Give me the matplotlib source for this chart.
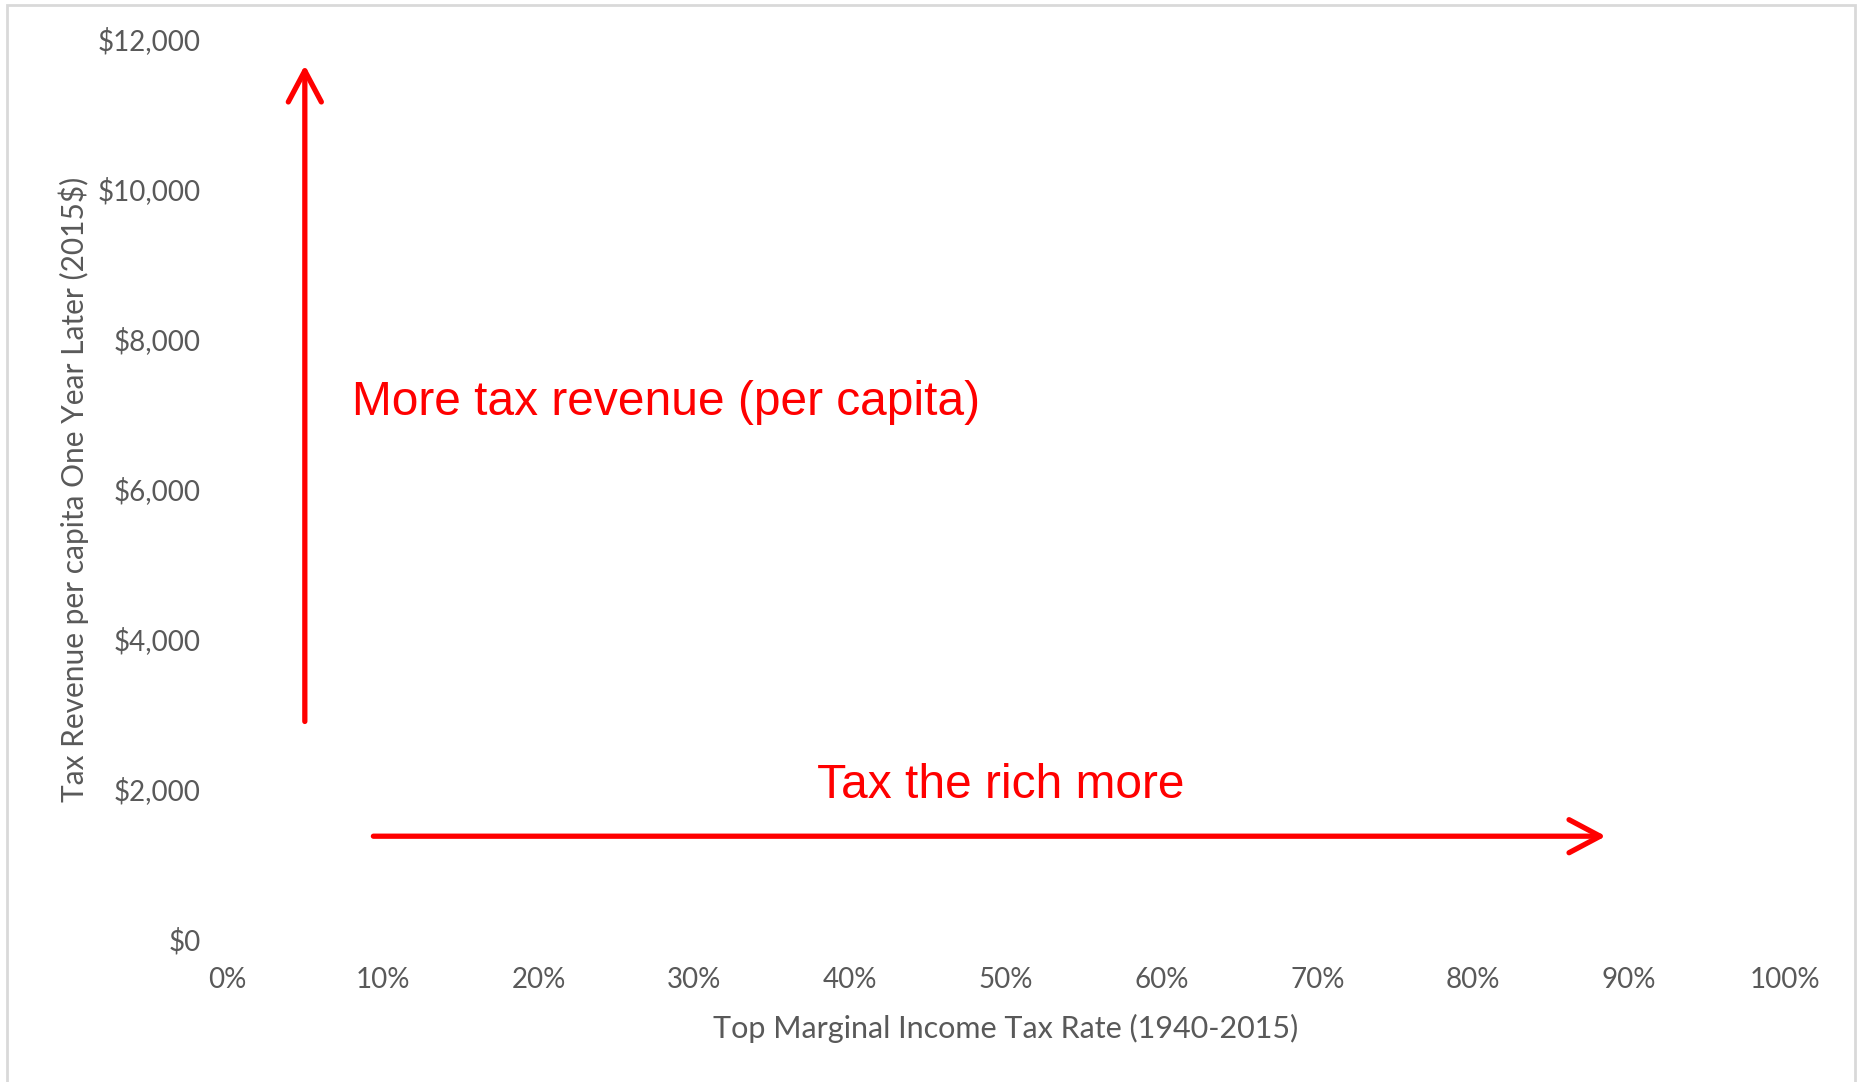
import numpy as np
import matplotlib.pyplot as plt
from matplotlib.patches import Rectangle
from matplotlib.ticker import FuncFormatter

# Axis ranges and ticks
x_ticks = [0.0, 0.1, 0.2, 0.3, 0.4, 0.5, 0.6, 0.7, 0.8, 0.9, 1.0]
y_ticks = [0, 2000, 4000, 6000, 8000, 10000, 12000]

# Annotation arrows: (start, end) in data units
revenue_arrow = [(0.05, 2900), (0.05, 11650)]
rate_arrow = [(0.094, 1370), (0.885, 1370)]
revenue_text = (0.08, 7150, "More tax revenue (per capita)")
rate_text = (0.379, 2040, "Tax the rich more")

gray = "#595959"
red = "#ff0000"
label_font = ["Lato", "DejaVu Sans"]

fig = plt.figure(figsize=(18.57, 10.82), dpi=100)
ax = fig.add_axes([0.1222, 0.1322, 0.8390, 0.8318])

ax.set_xlim(0, 1)
ax.set_ylim(0, 12000)
ax.set_xticks(x_ticks)
ax.set_yticks(y_ticks)
ax.xaxis.set_major_formatter(FuncFormatter(lambda v, p: f"{v*100:.0f}%"))
ax.yaxis.set_major_formatter(FuncFormatter(lambda v, p: f"${v:,.0f}"))
ax.tick_params(length=0, labelsize=20, labelcolor=gray)
ax.tick_params(axis="y", pad=19)
ax.tick_params(axis="x", pad=20)
for lab in ax.get_xticklabels() + ax.get_yticklabels():
    lab.set_family(label_font)
for s in ax.spines.values():
    s.set_visible(False)

ax.set_xlabel("Top Marginal Income Tax Rate (1940-2015)", fontsize=22,
              color=gray, family=label_font, labelpad=15)
ax.set_ylabel("Tax Revenue per capita One Year Later (2015$)", fontsize=21.5,
              color=gray, family=label_font, labelpad=6)

arrow_props = dict(arrowstyle="->,head_length=1.6,head_width=0.85",
                   color=red, lw=3.8, mutation_scale=14,
                   capstyle="round", joinstyle="round", shrinkA=0, shrinkB=0)
for start, end in (revenue_arrow, rate_arrow):
    ax.annotate("", xy=end, xytext=start, arrowprops=arrow_props)

for x, y, s in (revenue_text, rate_text):
    ax.text(x, y, s, color=red, fontsize=34.5, family="Liberation Sans",
            ha="left", va="center")

# Light chart-area border
fig.patches.append(Rectangle((7 / 1857, -0.05), 1848 / 1857, 1 - 5 / 1082 + 0.05,
                             transform=fig.transFigure, fill=False,
                             edgecolor="#d9d9d9", lw=2))

fig.savefig("out.png", dpi=100)
